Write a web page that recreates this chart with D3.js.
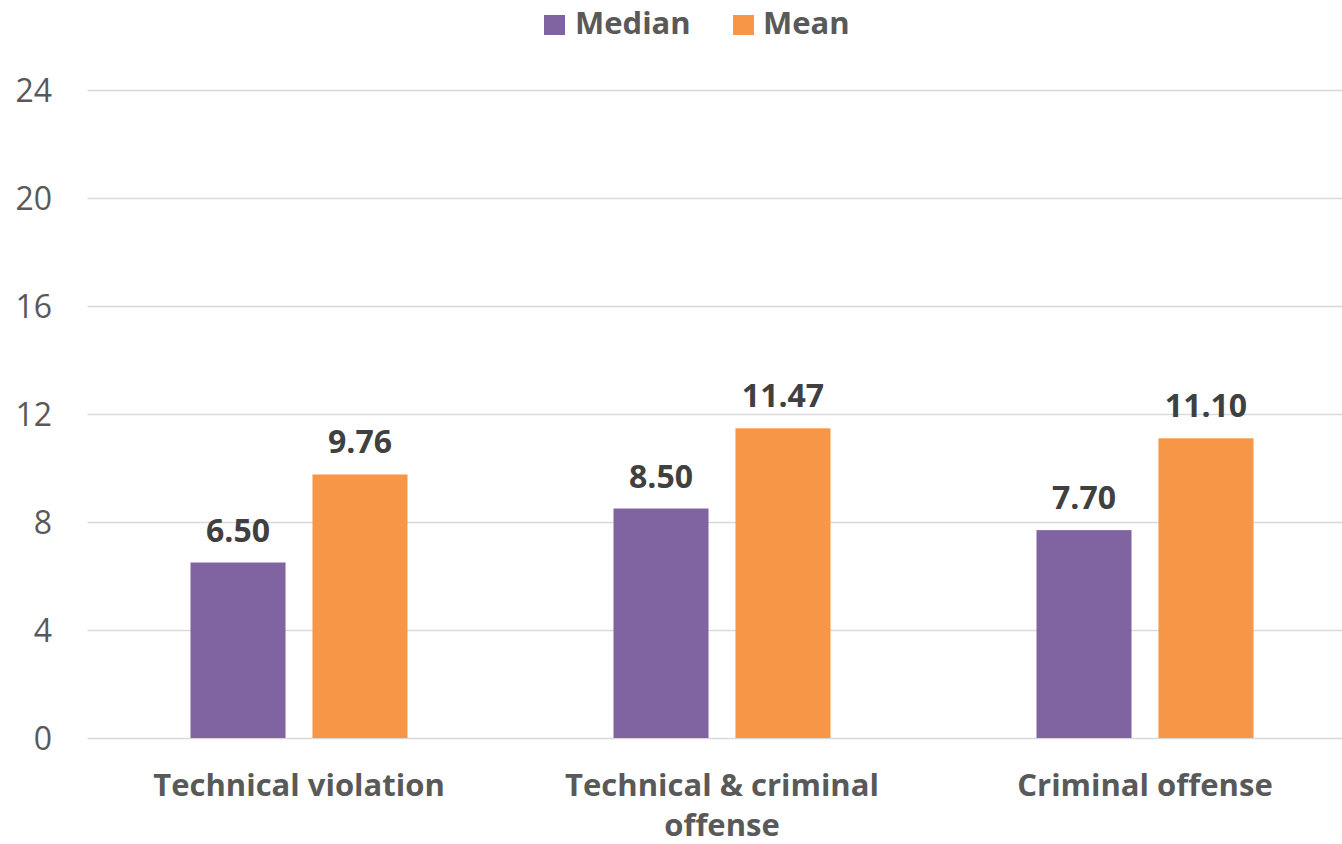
<!DOCTYPE html>
<html>
<head>
<meta charset="utf-8">
<script src="https://cdn.jsdelivr.net/npm/d3@7"></script>
<style>
html,body{margin:0;padding:0;background:#fff;}
svg{display:block;font-family:"Open Sans",sans-serif;}
</style>
</head>
<body>
<svg id="chart" width="1342" height="844"></svg>
<script>
const categories = [["Technical violation"], ["Technical & criminal", "offense"], ["Criminal offense"]];
const seriesNames = ["Median", "Mean"];
const medianValues = [6.50, 8.50, 7.70];
const meanValues = [9.76, 11.47, 11.10];
const yTicks = [0, 4, 8, 12, 16, 20, 24];
const colors = ["#8064A2", "#F79646"];

const svg = d3.select("#chart");
const left = 87.5, step = 423;
const catKeys = categories.map(c => c.join(" "));
const x0 = d3.scaleBand().domain(catKeys).range([left, left + step * 3]).paddingInner(0.487).paddingOuter(0.2435);
const x1 = d3.scaleBand().domain(seriesNames).range([0, x0.bandwidth()]).paddingInner(0.221);
const y = d3.scaleLinear().domain([0, 24]).range([738, 90]);

// gridlines
const yAxis = d3.axisLeft(y).tickValues(yTicks).tickSize(-(1342 - left)).tickPadding(24);
const ga = svg.append("g").attr("transform", `translate(${left},0)`).call(yAxis);
ga.select(".domain").remove();
ga.selectAll(".tick line").attr("stroke", "#d9d9d9").attr("stroke-width", 1.5);
ga.selectAll(".tick text").attr("fill", "#595959").attr("font-size", 32).attr("font-family", "Open Sans")
  .attr("dy", "0.35em").attr("x", -35.5).attr("text-anchor", "end");

const data = catKeys.map((k, i) => ({key: k, values: [medianValues[i], meanValues[i]]}));

const groups = svg.append("g").selectAll("g").data(data).join("g")
  .attr("transform", d => `translate(${x0(d.key)},0)`);

groups.selectAll("rect").data(d => d.values.map((v, j) => ({s: seriesNames[j], v, j})))
  .join("rect")
  .attr("x", d => x1(d.s))
  .attr("width", x1.bandwidth())
  .attr("y", d => y(d.v))
  .attr("height", d => y(0) - y(d.v))
  .attr("fill", d => colors[d.j]);

groups.selectAll("text.lbl").data(d => d.values.map((v, j) => ({s: seriesNames[j], v, j})))
  .join("text").attr("class", "lbl")
  .attr("x", d => x1(d.s) + x1.bandwidth() / 2)
  .attr("y", d => y(d.v) - 21)
  .attr("text-anchor", "middle")
  .attr("font-size", 32).attr("font-weight", "bold").attr("fill", "#404040")
  .text(d => d.v.toFixed(2));

// category labels
const catG = svg.append("g");
categories.forEach((lines, i) => {
  const cx = x0(catKeys[i]) + x0.bandwidth() / 2;
  const t = catG.append("text").attr("text-anchor", "middle")
    .attr("font-size", 31).attr("font-weight", "bold").attr("fill", "#595959");
  lines.forEach((ln, li) => {
    t.append("tspan").attr("x", cx).attr("y", 796 + li * 40).text(ln);
  });
});

// legend
const legend = svg.append("g");
const legendItems = [{name: "Median", sx: 544, tx: 575}, {name: "Mean", sx: 733, tx: 763}];
legendItems.forEach((it, i) => {
  legend.append("rect").attr("x", it.sx).attr("y", 15).attr("width", 21).attr("height", 20).attr("fill", colors[i]);
  legend.append("text").attr("x", it.tx).attr("y", 34).attr("font-size", 31).attr("font-weight", "bold")
    .attr("fill", "#595959").text(it.name);
});
</script>
</body>
</html>
